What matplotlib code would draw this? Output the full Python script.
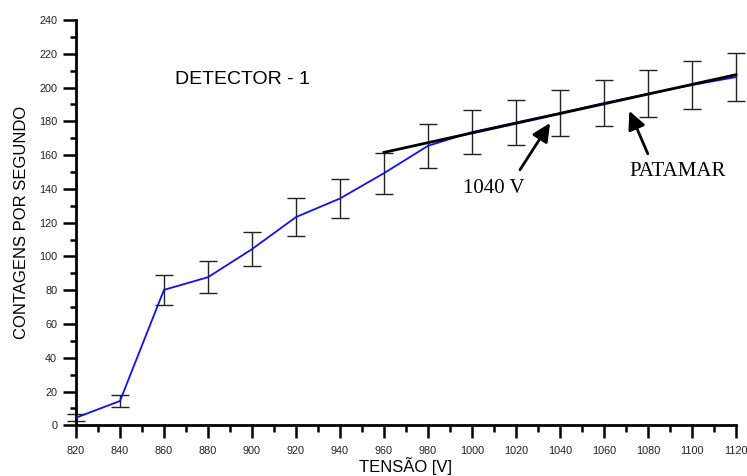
import matplotlib
matplotlib.use("Agg")
import matplotlib.pyplot as plt
from matplotlib.ticker import MultipleLocator

plt.rcParams['font.family'] = ['Liberation Sans', 'DejaVu Sans']

# Data
tensao = [820, 840, 860, 880, 900, 920, 940, 960, 980, 1000,
          1020, 1040, 1060, 1080, 1100, 1120]
contagens = [4.5, 14.4, 80.2, 87.7, 104.3, 123.3, 134.3, 149.3, 165.5, 173.6,
             179.3, 184.9, 190.8, 196.3, 201.5, 206.2]
erros = [2.1, 3.8, 9.0, 9.4, 10.2, 11.1, 11.6, 12.2, 12.9, 13.2,
         13.4, 13.6, 13.8, 14.0, 14.2, 14.4]
patamar_x = [960, 1120]
patamar_y = [161.6, 207.6]

fig = plt.figure(figsize=(7.47, 4.76), dpi=100)
ax = fig.add_axes([0.1017, 0.1065, 0.8836, 0.8515])

ax.errorbar(tensao, contagens, yerr=erros, fmt='none', ecolor='#222222',
            elinewidth=1.0, capsize=6.5, capthick=1.0, clip_on=False, zorder=2)
ax.plot(tensao, contagens, color='#1010ee', lw=1.3, clip_on=False, zorder=3)
ax.plot(patamar_x, patamar_y, color='black', lw=2.0, clip_on=False, zorder=4)

ax.set_xlim(820, 1120)
ax.set_ylim(0, 240)
ax.xaxis.set_major_locator(MultipleLocator(20))
ax.xaxis.set_minor_locator(MultipleLocator(10))
ax.yaxis.set_major_locator(MultipleLocator(20))
ax.yaxis.set_minor_locator(MultipleLocator(10))

for s in ['top', 'right']:
    ax.spines[s].set_visible(False)
for s in ['left', 'bottom']:
    ax.spines[s].set_linewidth(2.0)

ax.tick_params(axis='x', which='major', direction='out', length=9, width=1.8,
               pad=6, labelsize=7.8, colors='black')
ax.tick_params(axis='x', which='minor', direction='out', length=5, width=1.8)
ax.tick_params(axis='y', which='major', direction='out', length=9.5, width=1.8,
               pad=4, labelsize=7.8)
ax.tick_params(axis='y', which='minor', direction='out', length=4, width=1.8)
for lab in ax.get_xticklabels() + ax.get_yticklabels():
    lab.set_color('#222222')

ax.set_xlabel('TENSÃO [V]', fontsize=12, labelpad=0.5)
ax.set_ylabel('CONTAGENS POR SEGUNDO', fontsize=12, labelpad=7)

ax.text(865, 204.6, 'DETECTOR - 1', fontsize=14, va='center', ha='left')

serif = ['Liberation Serif', 'DejaVu Serif']
arrow_style = '-|>,head_length=0.5,head_width=0.24'
ax.annotate('', xy=(1035.5, 179.0), xytext=(1021.8, 151.3),
            arrowprops=dict(arrowstyle=arrow_style, lw=2.0, color='black', mutation_scale=22,
                            shrinkA=0, shrinkB=0))
ax.text(1010, 140.5, '1040 V', fontsize=15, family=serif, ha='center', va='center')
ax.annotate('', xy=(1071.5, 186.2), xytext=(1079.9, 160.8),
            arrowprops=dict(arrowstyle=arrow_style, lw=2.0, color='black', mutation_scale=22,
                            shrinkA=0, shrinkB=0))
ax.text(1093.5, 150.3, 'PATAMAR', fontsize=15, family=serif, ha='center', va='center')

fig.savefig('out.png', dpi=100)
